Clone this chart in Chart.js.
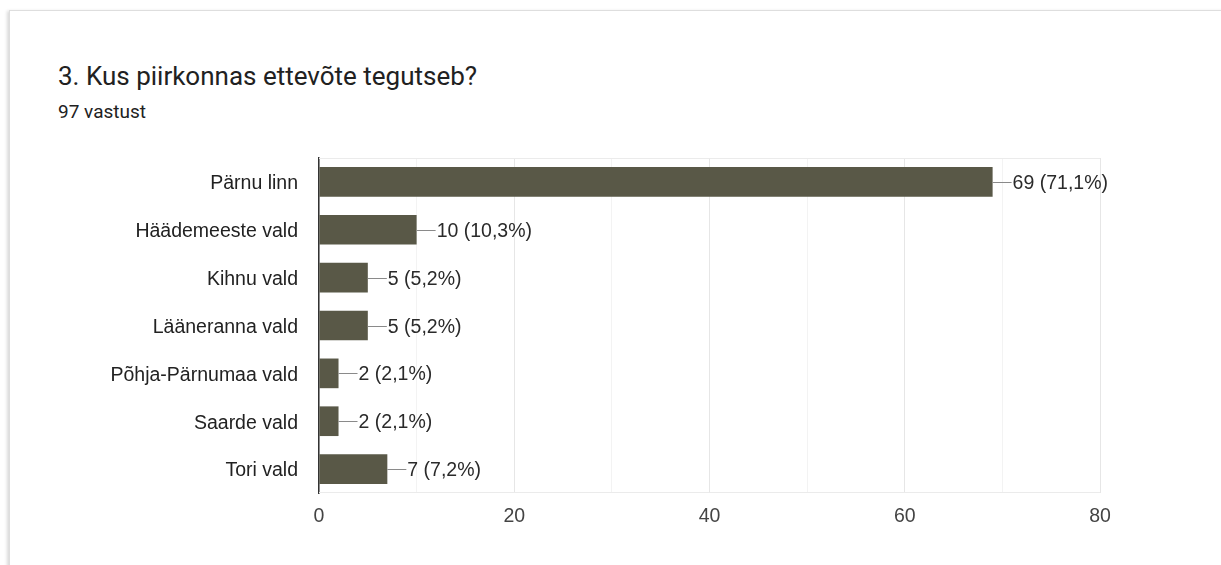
<!DOCTYPE html>
<html>
<head>
  <title>Kus piirkonnas ettevõte tegutseb</title>
  <script src="https://cdn.jsdelivr.net/npm/chart.js"></script>
  <style>
    body { margin: 0; background: #fff; overflow: hidden; }
    .card {
      position: absolute; left: 9px; top: 10px; width: 1260px; height: 620px;
      border: 1px solid #dedede; box-shadow: -2px 1px 3px rgba(0,0,0,0.15);
      background: #fff;
    }
    .title {
      position: absolute; left: 58px; top: 61px;
      font-family: Roboto, sans-serif; font-size: 26px; color: #212121;
    }
    .sub {
      position: absolute; left: 58px; top: 100px;
      font-family: Roboto, sans-serif; font-size: 19px; color: #212121;
    }
    #chart { position: absolute; left: 0; top: 0; }
  </style>
</head>
<body>
  <div class="card"></div>
  <div class="title">3. Kus piirkonnas ettevõte tegutseb?</div>
  <div class="sub">97 vastust</div>
  <canvas id="chart" width="1221" height="565"></canvas>

  <script>
    const categories = ['Pärnu linn', 'Häädemeeste vald', 'Kihnu vald', 'Lääneranna vald',
      'Põhja-Pärnumaa vald', 'Saarde vald', 'Tori vald'];
    const counts = [69, 10, 5, 5, 2, 2, 7];
    const percents = ['71,1%', '10,3%', '5,2%', '5,2%', '2,1%', '2,1%', '7,2%'];
    const xTicks = [0, 20, 40, 60, 80];

    const font = 'Arial, "Liberation Sans", sans-serif';

    // light box around the plot area (top and bottom lines)
    const plotBox = {
      id: 'plotBox',
      beforeDatasetsDraw(chart) {
        const a = chart.chartArea, ctx = chart.ctx;
        ctx.save();
        ctx.strokeStyle = '#ebebeb';
        ctx.lineWidth = 1;
        ctx.beginPath();
        ctx.moveTo(a.left, a.top + 0.5); ctx.lineTo(a.right, a.top + 0.5);
        ctx.moveTo(a.left, a.bottom - 0.5); ctx.lineTo(a.right, a.bottom - 0.5);
        ctx.stroke();
        ctx.restore();
      }
    };

    // "—69 (71,1%)" labels at the bar ends
    const valueLabels = {
      id: 'valueLabels',
      afterDatasetsDraw(chart) {
        const ctx = chart.ctx;
        const meta = chart.getDatasetMeta(0);
        ctx.save();
        meta.data.forEach((bar, i) => {
          const x = bar.x, y = Math.round(bar.y) + 0.5;
          ctx.strokeStyle = '#8a8a8a';
          ctx.lineWidth = 1;
          ctx.beginPath();
          ctx.moveTo(x, y); ctx.lineTo(x + 19, y);
          ctx.stroke();
          ctx.fillStyle = '#2a2a2a';
          ctx.font = '19.5px ' + font;
          ctx.textAlign = 'left';
          ctx.textBaseline = 'middle';
          ctx.fillText(counts[i] + ' (' + percents[i] + ')', x + 20, y + 1);
        });
        ctx.restore();
      }
    };

    new Chart(document.getElementById('chart'), {
      type: 'bar',
      data: {
        labels: categories,
        datasets: [{
          data: counts,
          backgroundColor: '#595847',
          borderWidth: 0,
          categoryPercentage: 1,
          barPercentage: 0.62
        }]
      },
      options: {
        indexAxis: 'y',
        responsive: false,
        animation: false,
        layout: { padding: { left: 0, top: 158, right: 121, bottom: 0 } },
        plugins: { legend: { display: false }, tooltip: { enabled: false } },
        scales: {
          x: {
            min: 0, max: 80,
            afterFit(s) { s.height = 72; },
            ticks: {
              stepSize: 10,
              padding: 12,
              color: '#444',
              font: { family: font, size: 19.5 },
              callback: v => xTicks.includes(v) ? v : ''
            },
            grid: {
              drawTicks: false,
              color: c => (c.tick && c.tick.value % 20 === 0) ? '#e6e6e6' : '#f3f3f3'
            },
            border: { display: false }
          },
          y: {
            afterFit(s) { s.width = 319; },
            ticks: {
              padding: 21,
              labelOffset: 2,
              color: '#222',
              font: { family: font, size: 19.5 }
            },
            grid: { display: false, drawTicks: false },
            border: { display: true, color: '#333', width: 1.5 }
          }
        }
      },
      plugins: [plotBox, valueLabels]
    });
  </script>
</body>
</html>
